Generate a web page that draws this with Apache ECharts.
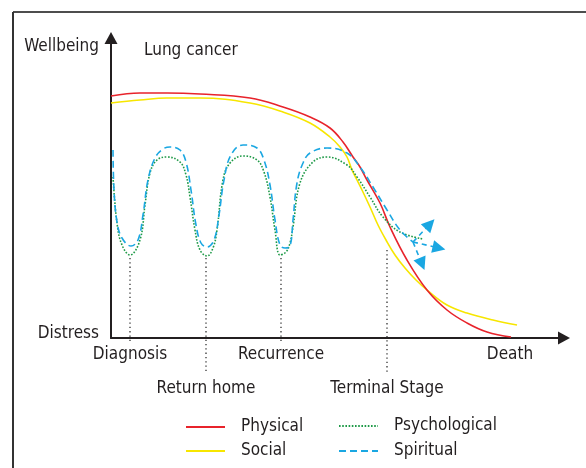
<!DOCTYPE html>
<html>
<head>
<meta charset="utf-8">
<script src="https://cdn.jsdelivr.net/npm/echarts@6/dist/echarts.min.js"></script>
<style>html,body{margin:0;padding:0;background:#fff}#c{width:586px;height:468px}</style>
</head>
<body>
<div id="c"></div>
<script>
// Data in chart units: x = time (0..453), y = wellbeing (0 = distress, 300 = top)
var physical = [[0,242],[29,245],[56,245],[89,244],[139,240],[172,231],[199,221],[219,210],[232,196],[242,181],[249,171],[256,158],[269,135],[279,111],[296,78],[316,48],[336,28],[356,15],[376,6],[400,1]];
var social = [[0,235],[29,238],[56,240],[89,240],[139,235],[172,226],[199,215],[219,201],[229,191],[236,181],[241,168],[246,158],[251,148],[259,131],[267,113],[275,98],[284,83],[294,70],[305,58],[316,48],[336,33],[356,25],[382,18],[406,13]];
var psychological = [[2,161],[6,115],[11,93],[19,83],[29,98],[34,133],[39,165],[46,178],[56,181],[69,176],[75,163],[79,141],[84,108],[89,88],[96,82],[102,90],[106,108],[112,158],[119,175],[132,182],[146,178],[153,166],[159,141],[164,108],[169,83],[175,86],[179,95],[182,111],[189,155],[202,176],[216,181],[236,173],[246,161],[259,141],[272,121],[289,106],[312,99]];
var spiritual = [[2,188],[3,148],[6,116],[11,100],[20,92],[27,98],[32,123],[37,158],[44,180],[52,189],[59,191],[69,188],[75,176],[80,148],[85,113],[90,95],[96,91],[103,98],[108,123],[113,158],[120,183],[132,193],[146,190],[153,178],[159,153],[164,118],[169,93],[174,90],[179,92],[182,118],[186,155],[192,175],[199,185],[216,190],[236,185],[249,171],[262,151],[276,128],[289,108],[302,96]];
var spiritualBranches = [[[302,96],[319,114]],[[302,96],[328,90]],[[302,96],[311,74]]];
var eventNames = ['Diagnosis','Return home','Recurrence','Terminal Stage','Death'];
var eventX = [19, 95, 170, 276, 399];
var eventRow = [0, 1, 0, 1, 0];
var eventLineTop = [80, 80, 80, 88, null];
var yLabelValues = [4, 291];
var yLabelNames = ['Distress', 'Wellbeing'];
var seriesNames = ['Physical','Social','Psychological','Spiritual'];
var colors = ['#e8232b','#f7e600','#1f9a48','#1aa7e2'];

var FONT = '"DejaVu Sans Condensed","Liberation Sans Narrow",sans-serif';
var FS = 17;
var TXT = '#231f20';
var ROW_Y = [-17, -51];      // label rows below the time axis
var LINE_END = [-4, -34];    // where dotted event lines stop for each row
var chart = echarts.init(document.getElementById('c'), null, {renderer:'canvas'});

var eventSeries = [];
for (var i = 0; i < eventX.length; i++) {
  if (eventLineTop[i] === null) continue;
  eventSeries.push({
    type:'line', silent:true, symbol:'none', clip:false, z:1,
    data:[[eventX[i], eventLineTop[i]],[eventX[i], LINE_END[eventRow[i]]]],
    lineStyle:{color:'#333', width:1.3, type:[1.3,3]}
  });
}
eventSeries.push({
  type:'scatter', silent:true, clip:false, symbolSize:0, z:2,
  itemStyle:{opacity:1},
  data: eventX.map(function(x, k){ return {value:[x, ROW_Y[eventRow[k]]], name:eventNames[k]}; }),
  label:{show:true, position:[0,0], align:'center', verticalAlign:'middle', formatter:'{b}',
    fontFamily:FONT, fontSize:FS, color:TXT, opacity:1, textBorderWidth:0}
});

function legendFor(name, left, top) {
  return {data:[name], left:left, top:top, padding:0, itemWidth:39, itemHeight:14, selectedMode:false,
    itemStyle:{color:'rgba(0,0,0,0)', borderWidth:0, opacity:0},
    textStyle:{fontFamily:FONT, fontSize:FS, color:TXT, lineHeight:20, padding:[0,0,0,11]}};
}

var option = {
  animation:false,
  backgroundColor:'#fff',
  textStyle:{fontFamily:FONT},
  title:{text:'Lung cancer', left:144, top:41, padding:0, textStyle:{fontFamily:FONT, fontSize:FS, fontWeight:'normal', color:TXT, lineHeight:20}},
  grid:{left:111, right:22, top:38, bottom:130, containLabel:false},
  xAxis:{type:'value', min:0, max:453, splitLine:{show:false},
    axisLine:{show:true, lineStyle:{color:TXT, width:2}, symbol:['none','triangle'], symbolSize:[13,12]},
    axisTick:{show:false}, axisLabel:{show:false}
  },
  yAxis:{type:'value', min:0, max:300, splitLine:{show:false},
    axisLine:{show:true, lineStyle:{color:TXT, width:2}, symbol:['none','triangle'], symbolSize:[13,12]},
    axisTick:{show:false},
    axisLabel:{customValues:yLabelValues, margin:12, fontFamily:FONT, fontSize:FS, color:TXT,
      formatter:function(v){var k=yLabelValues.indexOf(v); return k<0?'':yLabelNames[k];}}
  },
  legend:[
    legendFor('Physical', 185, 417),
    legendFor('Social', 185, 441),
    legendFor('Psychological', 338, 416),
    legendFor('Spiritual', 338, 441)
  ],
  graphic:[
    {type:'line', shape:{x1:13, y1:12, x2:586, y2:12}, style:{stroke:'#4d4d4d', lineWidth:2}},
    {type:'line', shape:{x1:13, y1:12, x2:13, y2:468}, style:{stroke:'#333', lineWidth:2}}
  ],
  series: eventSeries.concat([
    {name:'Social', type:'line', data:social, smooth:0.4, symbol:'none', showSymbol:false, clip:false, z:3,
      lineStyle:{color:colors[1], width:1.6}, itemStyle:{color:colors[1]}},
    {name:'Physical', type:'line', data:physical, smooth:0.4, symbol:'none', showSymbol:false, clip:false, z:4,
      lineStyle:{color:colors[0], width:1.6}, itemStyle:{color:colors[0]}},
    {name:'Psychological', type:'line', data:psychological, smooth:0.4, symbol:'none', showSymbol:false, clip:false, z:5,
      lineStyle:{color:colors[2], width:1.6, type:[1.6,1.6]}, itemStyle:{color:colors[2]}},
    {name:'Spiritual', type:'line', data:spiritual, smooth:0.4, symbol:'none', showSymbol:false, clip:false, z:6,
      lineStyle:{color:colors[3], width:1.6, type:[7,4]}, itemStyle:{color:colors[3]}},
    {type:'lines', coordinateSystem:'cartesian2d', silent:true, z:6,
      symbol:['none','triangle'], symbolSize:13,
      lineStyle:{color:colors[3], width:1.6, type:[5,4], opacity:1},
      data: spiritualBranches.map(function(c){return {coords:c};})}
  ])
};
chart.setOption(option);
</script>
</body>
</html>
